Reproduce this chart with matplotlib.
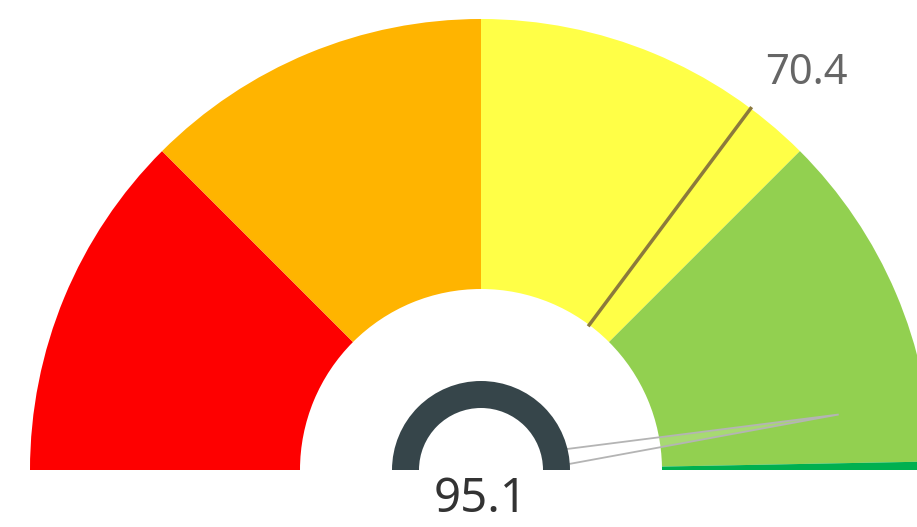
import numpy as np
import matplotlib.pyplot as plt
from matplotlib.patches import Wedge, Polygon

# gauge data
band_edges = [0, 25, 50, 75, 99.4, 100]
band_colors = ["#fe0000", "#ffb400", "#ffff47", "#92d050", "#00b050"]
gauge_min, gauge_max = 0, 100
value = 95.1
target = 70.4

plt.rcParams['font.family'] = ['Noto Sans', 'DejaVu Sans']

cx, cy = 481, 57
r_out, r_in = 451, 181


def angle(v):
    return 180 - (v - gauge_min) / (gauge_max - gauge_min) * 180


def polar(r, a):
    t = np.radians(a)
    return cx + r * np.cos(t), cy + r * np.sin(t)


fig = plt.figure(figsize=(9.17, 5.27), dpi=100)
ax = fig.add_axes([0, 0, 1, 1])
ax.set_xlim(0, 917)
ax.set_ylim(0, 527)
ax.set_aspect('equal')
ax.axis('off')

# colour bands
for lo, hi, c in zip(band_edges[:-1], band_edges[1:], band_colors):
    ax.add_patch(Wedge((cx, cy), r_out, angle(hi), angle(lo), width=r_out - r_in,
                       facecolor=c, edgecolor='none', zorder=1))

# target line + label
ta = angle(target)
x0, y0 = polar(r_in, ta)
x1, y1 = polar(r_out, ta)
ax.plot([x0, x1], [y0, y1], color="#8c7a3c", lw=2.5, zorder=3)
ax.text(x1 + 14, y1 + 14, f"{target}", fontsize=30, color="#666666",
        ha='left', va='bottom', zorder=5)

# needle (starts at the hub edge)
va = angle(value)
t = np.radians(va)
ux, uy = np.cos(t), np.sin(t)
nx, ny = -uy, ux
tip_r, half_w, start_r = 362, 10, 88
w0 = half_w * (1 - start_r / tip_r)
pts = [(cx + ux * start_r + nx * w0, cy + uy * start_r + ny * w0),
       (cx + ux * tip_r, cy + uy * tip_r),
       (cx + ux * start_r - nx * w0, cy + uy * start_r - ny * w0)]
ax.add_patch(Polygon(pts, closed=False, facecolor=(1, 1, 1, 0.2),
                     edgecolor="#b4b4b4", lw=1.3, zorder=4))

# hub
ax.add_patch(Wedge((cx, cy), 89, 0, 180, width=27, facecolor="#36454a",
                   edgecolor='none', zorder=6))

# value
ax.text(cx, 28, f"{value}", fontsize=34, color="#333333", ha='center',
        va='center', zorder=7)

fig.savefig("out.png", dpi=100)
